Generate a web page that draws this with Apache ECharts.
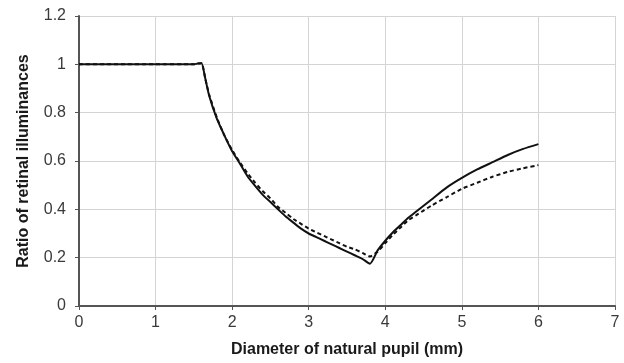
<!DOCTYPE html>
<html>
<head>
<meta charset="utf-8">
<script src="https://cdn.jsdelivr.net/npm/echarts@6/dist/echarts.min.js"></script>
<style>
  html, body { margin: 0; padding: 0; background: #fff; }
  #chart { width: 624px; height: 363px; }
</style>
</head>
<body>
<div id="chart"></div>
<script>
// pupil diameter (mm)
const diameters = [0, 0.5, 1.0, 1.5, 1.55, 1.6, 1.65, 1.7, 1.8, 1.9, 2.0, 2.1, 2.2, 2.3, 2.4, 2.5, 2.6, 2.7, 2.8, 2.9, 3.0,
  3.1, 3.2, 3.3, 3.4, 3.5, 3.6, 3.7, 3.8, 3.9, 4.0, 4.1, 4.2, 4.3, 4.4, 4.5, 4.6, 4.8, 5.0, 5.2, 5.4, 5.6, 5.8, 6.0]

// solid curve
const ratioSolid = [1, 1, 1, 1, 1.003, 1.005, 0.94, 0.87, 0.775, 0.705, 0.64, 0.59, 0.537, 0.497, 0.46, 0.43, 0.4, 0.37,
  0.345, 0.32, 0.3, 0.285, 0.27, 0.255, 0.24, 0.225, 0.21, 0.195, 0.175, 0.23, 0.27, 0.305, 0.335, 0.365, 0.39, 0.415,
  0.44, 0.49, 0.53, 0.565, 0.595, 0.625, 0.65, 0.67]

// dashed curve
const ratioDashed = [1, 1, 1, 1, 1.003, 1.005, 0.94, 0.875, 0.78, 0.705, 0.645, 0.595, 0.55, 0.51, 0.475, 0.445, 0.41,
  0.385, 0.36, 0.34, 0.32, 0.305, 0.29, 0.275, 0.26, 0.245, 0.235, 0.22, 0.205, 0.225, 0.26, 0.295, 0.325, 0.355, 0.375,
  0.395, 0.415, 0.45, 0.485, 0.51, 0.535, 0.555, 0.57, 0.583]

const chart = echarts.init(document.getElementById('chart'))

const pairs = (ys) => diameters.map((x, i) => [x, ys[i]])

const labelStyle = {
  color: '#3a3a3a',
  fontFamily: 'Liberation Sans, Arial, sans-serif',
  fontSize: 16
}

const nameStyle = {
  color: '#1a1a1a',
  fontFamily: 'Liberation Sans, Arial, sans-serif',
  fontSize: 16,
  fontWeight: 'bold'
}

chart.setOption({
  animation: false,
  grid: {
    left: 79,
    right: 9,
    top: 16,
    bottom: 54
  },
  xAxis: {
    type: 'value',
    min: 0,
    max: 7,
    interval: 1,
    name: 'Diameter of natural pupil (mm)',
    nameLocation: 'middle',
    nameGap: 36,
    nameTextStyle: nameStyle,
    axisLine: { show: true, onZero: false, lineStyle: { color: '#555', width: 2 } },
    axisTick: { show: true, length: 4, lineStyle: { color: '#555', width: 1 } },
    axisLabel: { ...labelStyle, margin: 9 },
    splitLine: { show: true, lineStyle: { color: '#d4d4d4', width: 1 } }
  },
  yAxis: {
    type: 'value',
    min: 0,
    max: 1.2,
    interval: 0.2,
    name: 'Ratio of retinal illuminances',
    nameLocation: 'middle',
    nameGap: 47,
    nameTextStyle: nameStyle,
    axisLine: { show: true, lineStyle: { color: '#555', width: 2 } },
    axisTick: { show: true, length: 4, lineStyle: { color: '#555', width: 1 } },
    axisLabel: { ...labelStyle, margin: 13 },
    splitLine: { show: true, lineStyle: { color: '#d4d4d4', width: 1 } }
  },
  series: [
    {
      name: 'dashed',
      type: 'line',
      data: pairs(ratioDashed),
      showSymbol: false,
      smooth: 0.2,
      lineStyle: { color: '#111', width: 2, type: [4, 3] }
    },
    {
      name: 'solid',
      type: 'line',
      data: pairs(ratioSolid),
      showSymbol: false,
      smooth: 0.2,
      lineStyle: { color: '#111', width: 2 }
    }
  ]
})
</script>
</body>
</html>
